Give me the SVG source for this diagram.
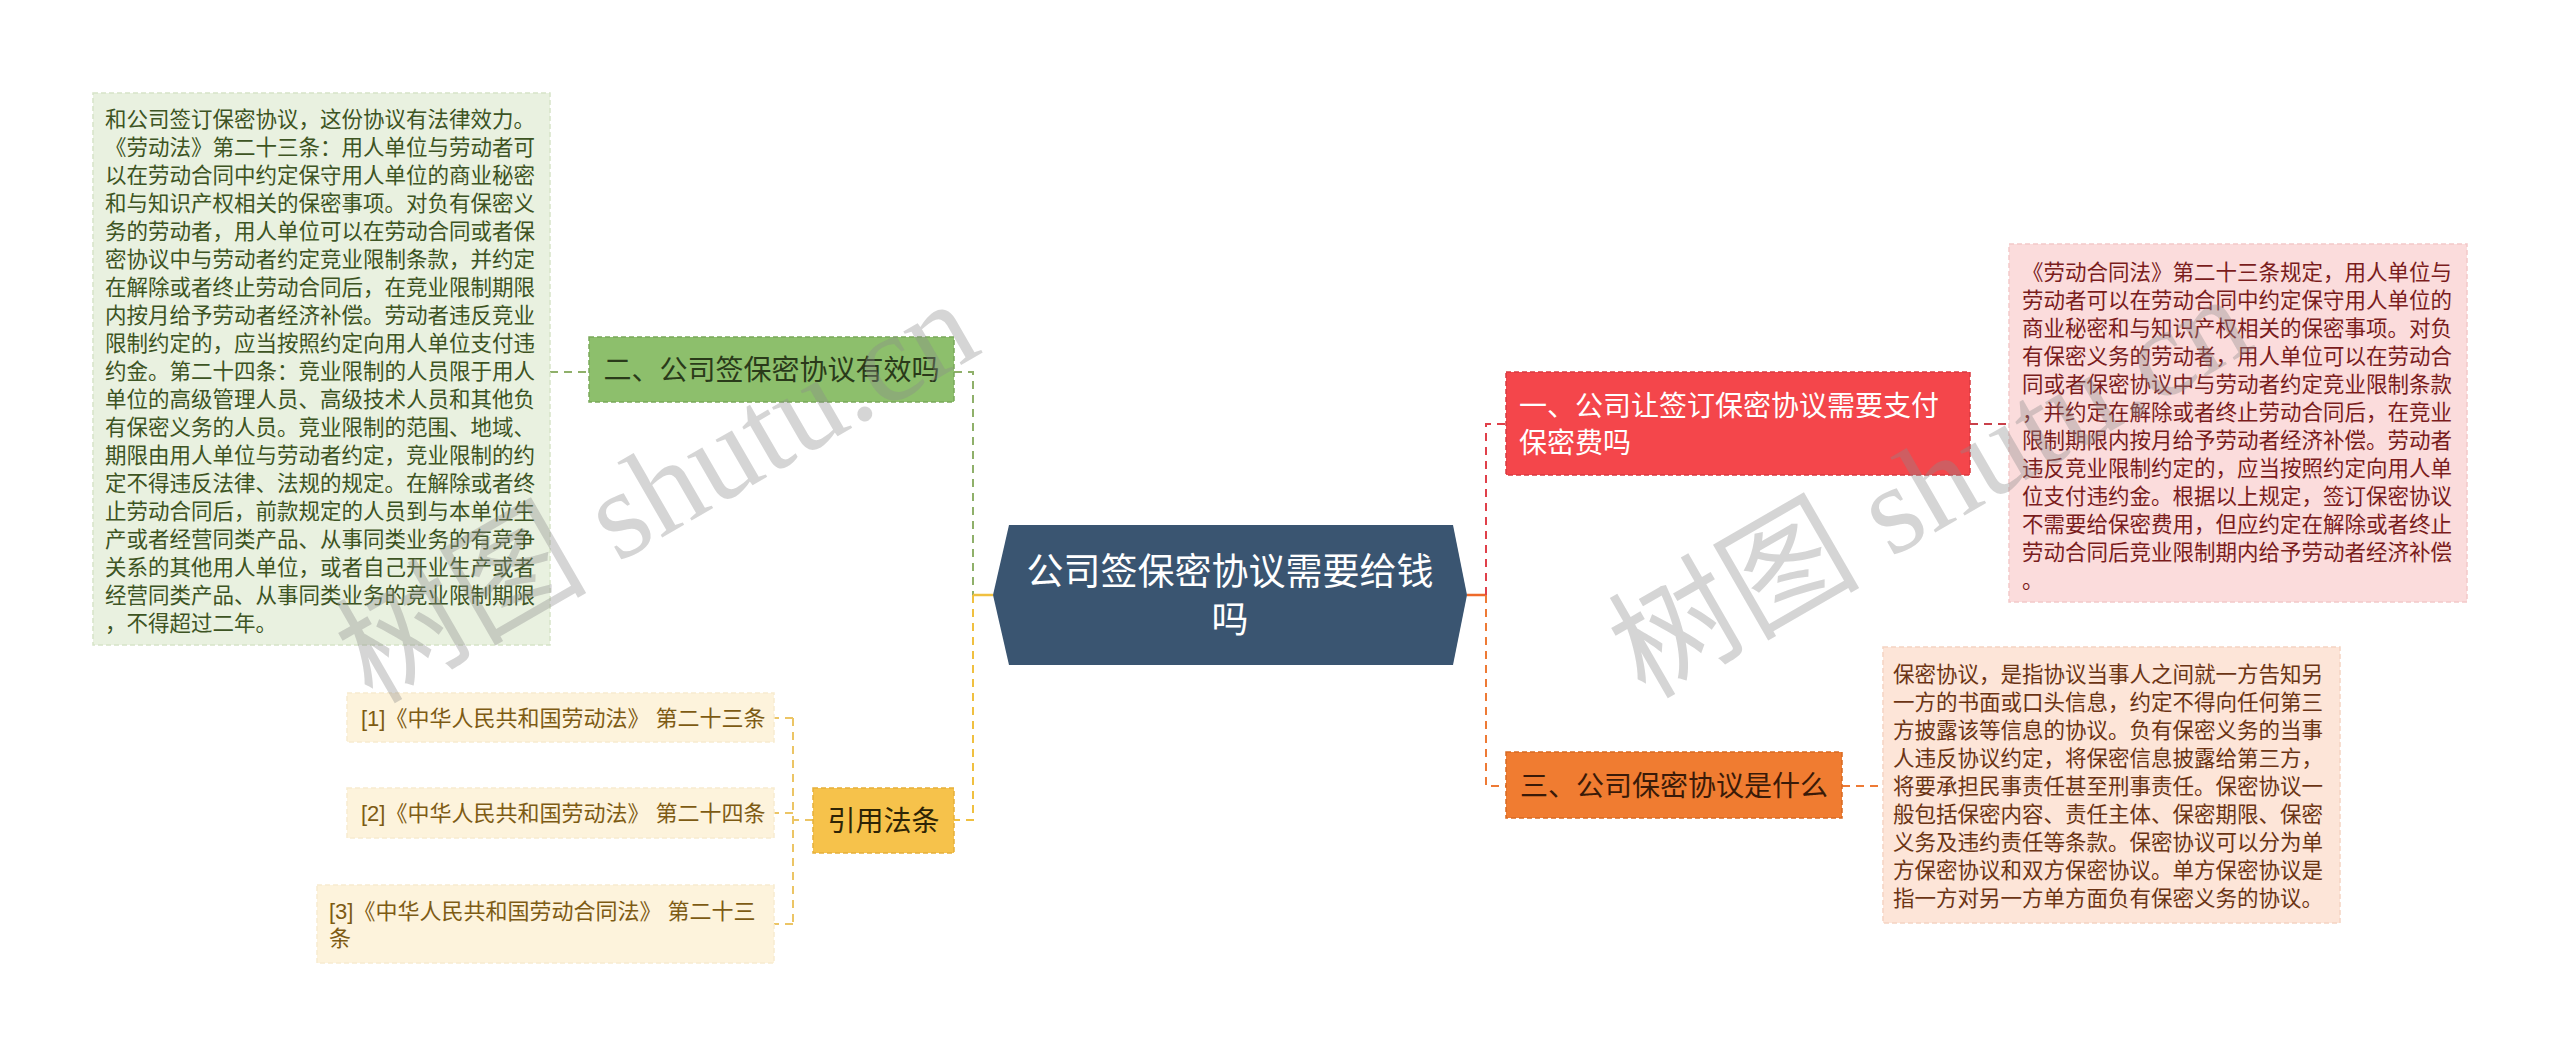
<svg xmlns="http://www.w3.org/2000/svg" width="2560" height="1056" viewBox="0 0 2560 1056">
<style>
  text { font-family: "Liberation Sans", "Noto Sans CJK SC", sans-serif; dominant-baseline: central; }
  .body { font-size: 21.5px; }
  .node { font-size: 28px; }
  .conn { fill: none; stroke-width: 2; stroke-dasharray: 8 6; }
  .solid { fill: none; stroke-width: 2.5; }
  .wm { font-family: "Liberation Serif", "Noto Sans CJK SC", serif; font-size: 126px; fill: #8a8a8a; fill-opacity: 0.36; }
</style>
<rect width="2560" height="1056" fill="#ffffff"/>

<g id="connectors">
  <path class="conn" stroke="#8fb06a" d="M 550 372 H 589"/>
  <path class="conn" stroke="#8fb06a" d="M 954 372 H 973 V 595"/>
  <path class="solid" stroke="#f0c040" d="M 973 595 H 993"/>
  <path class="conn" stroke="#f0c040" d="M 973 595 V 820 H 954"/>
  <path class="conn" stroke="#ecc565" d="M 813 820 H 793 M 793 718 V 924 M 793 718 H 774 M 793 813 H 774 M 793 924 H 774"/>
  <path class="solid" stroke="#ee6a2a" d="M 1467 595 H 1486"/>
  <path class="conn" stroke="#e0404a" d="M 1486 595 V 424 H 1506"/>
  <path class="conn" stroke="#c9404a" d="M 1970 424 H 2009"/>
  <path class="conn" stroke="#ee7a35" d="M 1486 595 V 786 H 1506"/>
  <path class="conn" stroke="#ee7a35" d="M 1842 786 H 1883"/>
</g>

<g id="center">
  <polygon points="993,595 1009,525 1453,525 1467,595 1453,665 1009,665" fill="#3a5571"/>
  <text x="1230" y="572" text-anchor="middle" font-size="37" fill="#ffffff">公司签保密协议需要给钱</text>
  <text x="1230" y="620" text-anchor="middle" font-size="37" fill="#ffffff">吗</text>
</g>

<g id="node-green">
  <rect x="589" y="337" width="365" height="65" fill="#8dbf6c" stroke="#7aa95a" stroke-width="1.5" stroke-dasharray="5 3"/>
  <text class="node" x="771.5" y="370" text-anchor="middle" fill="#2a3a1a">二、公司签保密协议有效吗</text>
</g>

<g id="text-green">
  <rect x="93" y="93" width="457" height="552" fill="#e9f1e0" stroke="#d6e4c8" stroke-width="1.5" stroke-dasharray="5 3"/>
  <g class="body" fill="#3d5423">
    <text x="105" y="120">和公司签订保密协议，这份协议有法律效力。</text>
    <text x="105" y="148">《劳动法》第二十三条：用人单位与劳动者可</text>
    <text x="105" y="176">以在劳动合同中约定保守用人单位的商业秘密</text>
    <text x="105" y="204">和与知识产权相关的保密事项。对负有保密义</text>
    <text x="105" y="232">务的劳动者，用人单位可以在劳动合同或者保</text>
    <text x="105" y="260">密协议中与劳动者约定竞业限制条款，并约定</text>
    <text x="105" y="288">在解除或者终止劳动合同后，在竞业限制期限</text>
    <text x="105" y="316">内按月给予劳动者经济补偿。劳动者违反竞业</text>
    <text x="105" y="344">限制约定的，应当按照约定向用人单位支付违</text>
    <text x="105" y="372">约金。第二十四条：竞业限制的人员限于用人</text>
    <text x="105" y="400">单位的高级管理人员、高级技术人员和其他负</text>
    <text x="105" y="428">有保密义务的人员。竞业限制的范围、地域、</text>
    <text x="105" y="456">期限由用人单位与劳动者约定，竞业限制的约</text>
    <text x="105" y="484">定不得违反法律、法规的规定。在解除或者终</text>
    <text x="105" y="512">止劳动合同后，前款规定的人员到与本单位生</text>
    <text x="105" y="540">产或者经营同类产品、从事同类业务的有竞争</text>
    <text x="105" y="568">关系的其他用人单位，或者自己开业生产或者</text>
    <text x="105" y="596">经营同类产品、从事同类业务的竞业限制期限</text>
    <text x="105" y="624">，不得超过二年。</text>
  </g>
</g>

<g id="node-yellow">
  <rect x="813" y="788" width="141" height="65" fill="#f6c24b" stroke="#e6b03a" stroke-width="1.5" stroke-dasharray="5 3"/>
  <text class="node" x="883.5" y="821" text-anchor="middle" fill="#2e2405">引用法条</text>
</g>

<g id="ref-1">
  <rect x="347" y="693" width="427" height="49" fill="#fdf3dc" stroke="#f8ecd0" stroke-width="1.5" stroke-dasharray="5 3"/>
  <text x="361" y="718" font-size="22" fill="#7d5b14">[1]《中华人民共和国劳动法》 第二十三条</text>
</g>
<g id="ref-2">
  <rect x="347" y="788" width="427" height="50" fill="#fdf3dc" stroke="#f8ecd0" stroke-width="1.5" stroke-dasharray="5 3"/>
  <text x="361" y="813" font-size="22" fill="#7d5b14">[2]《中华人民共和国劳动法》 第二十四条</text>
</g>
<g id="ref-3">
  <rect x="317" y="885" width="457" height="78" fill="#fdf3dc" stroke="#f8ecd0" stroke-width="1.5" stroke-dasharray="5 3"/>
  <text x="329" y="911" font-size="22" fill="#7d5b14">[3]《中华人民共和国劳动合同法》 第二十三</text>
  <text x="329" y="938" font-size="22" fill="#7d5b14">条</text>
</g>

<g id="node-red">
  <rect x="1506" y="372" width="464" height="103" fill="#f4464b" stroke="#d93a40" stroke-width="1.5" stroke-dasharray="5 3"/>
  <text class="node" x="1519" y="406" fill="#ffffff">一、公司让签订保密协议需要支付</text>
  <text class="node" x="1519" y="443" fill="#ffffff">保密费吗</text>
</g>

<g id="text-red">
  <rect x="2009" y="244" width="458" height="358" fill="#fbdcdc" stroke="#f3c9c9" stroke-width="1.5" stroke-dasharray="5 3"/>
  <g class="body" fill="#7a1c1c">
    <text x="2022" y="273">《劳动合同法》第二十三条规定，用人单位与</text>
    <text x="2022" y="301">劳动者可以在劳动合同中约定保守用人单位的</text>
    <text x="2022" y="329">商业秘密和与知识产权相关的保密事项。对负</text>
    <text x="2022" y="357">有保密义务的劳动者，用人单位可以在劳动合</text>
    <text x="2022" y="385">同或者保密协议中与劳动者约定竞业限制条款</text>
    <text x="2022" y="413">，并约定在解除或者终止劳动合同后，在竞业</text>
    <text x="2022" y="441">限制期限内按月给予劳动者经济补偿。劳动者</text>
    <text x="2022" y="469">违反竞业限制约定的，应当按照约定向用人单</text>
    <text x="2022" y="497">位支付违约金。根据以上规定，签订保密协议</text>
    <text x="2022" y="525">不需要给保密费用，但应约定在解除或者终止</text>
    <text x="2022" y="553">劳动合同后竞业限制期内给予劳动者经济补偿</text>
    <text x="2022" y="581">。</text>
  </g>
</g>

<g id="node-orange">
  <rect x="1506" y="752" width="336" height="66" fill="#f07c31" stroke="#d86a22" stroke-width="1.5" stroke-dasharray="5 3"/>
  <text class="node" x="1674" y="786" text-anchor="middle" fill="#3a1a08">三、公司保密协议是什么</text>
</g>

<g id="text-orange">
  <rect x="1883" y="647" width="457" height="276" fill="#fde5d8" stroke="#f5d4c2" stroke-width="1.5" stroke-dasharray="5 3"/>
  <g class="body" fill="#6b3414">
    <text x="1893" y="675">保密协议，是指协议当事人之间就一方告知另</text>
    <text x="1893" y="703">一方的书面或口头信息，约定不得向任何第三</text>
    <text x="1893" y="731">方披露该等信息的协议。负有保密义务的当事</text>
    <text x="1893" y="759">人违反协议约定，将保密信息披露给第三方，</text>
    <text x="1893" y="787">将要承担民事责任甚至刑事责任。保密协议一</text>
    <text x="1893" y="815">般包括保密内容、责任主体、保密期限、保密</text>
    <text x="1893" y="843">义务及违约责任等条款。保密协议可以分为单</text>
    <text x="1893" y="871">方保密协议和双方保密协议。单方保密协议是</text>
    <text x="1893" y="899">指一方对另一方单方面负有保密义务的协议。</text>
  </g>
</g>

<g id="watermarks">
  <text class="wm" transform="translate(372 705) rotate(-30)" style="dominant-baseline:auto">树图 shutu.cn</text>
  <text class="wm" transform="translate(1645 700) rotate(-30)" style="dominant-baseline:auto">树图 shutu.cn</text>
</g>
</svg>
